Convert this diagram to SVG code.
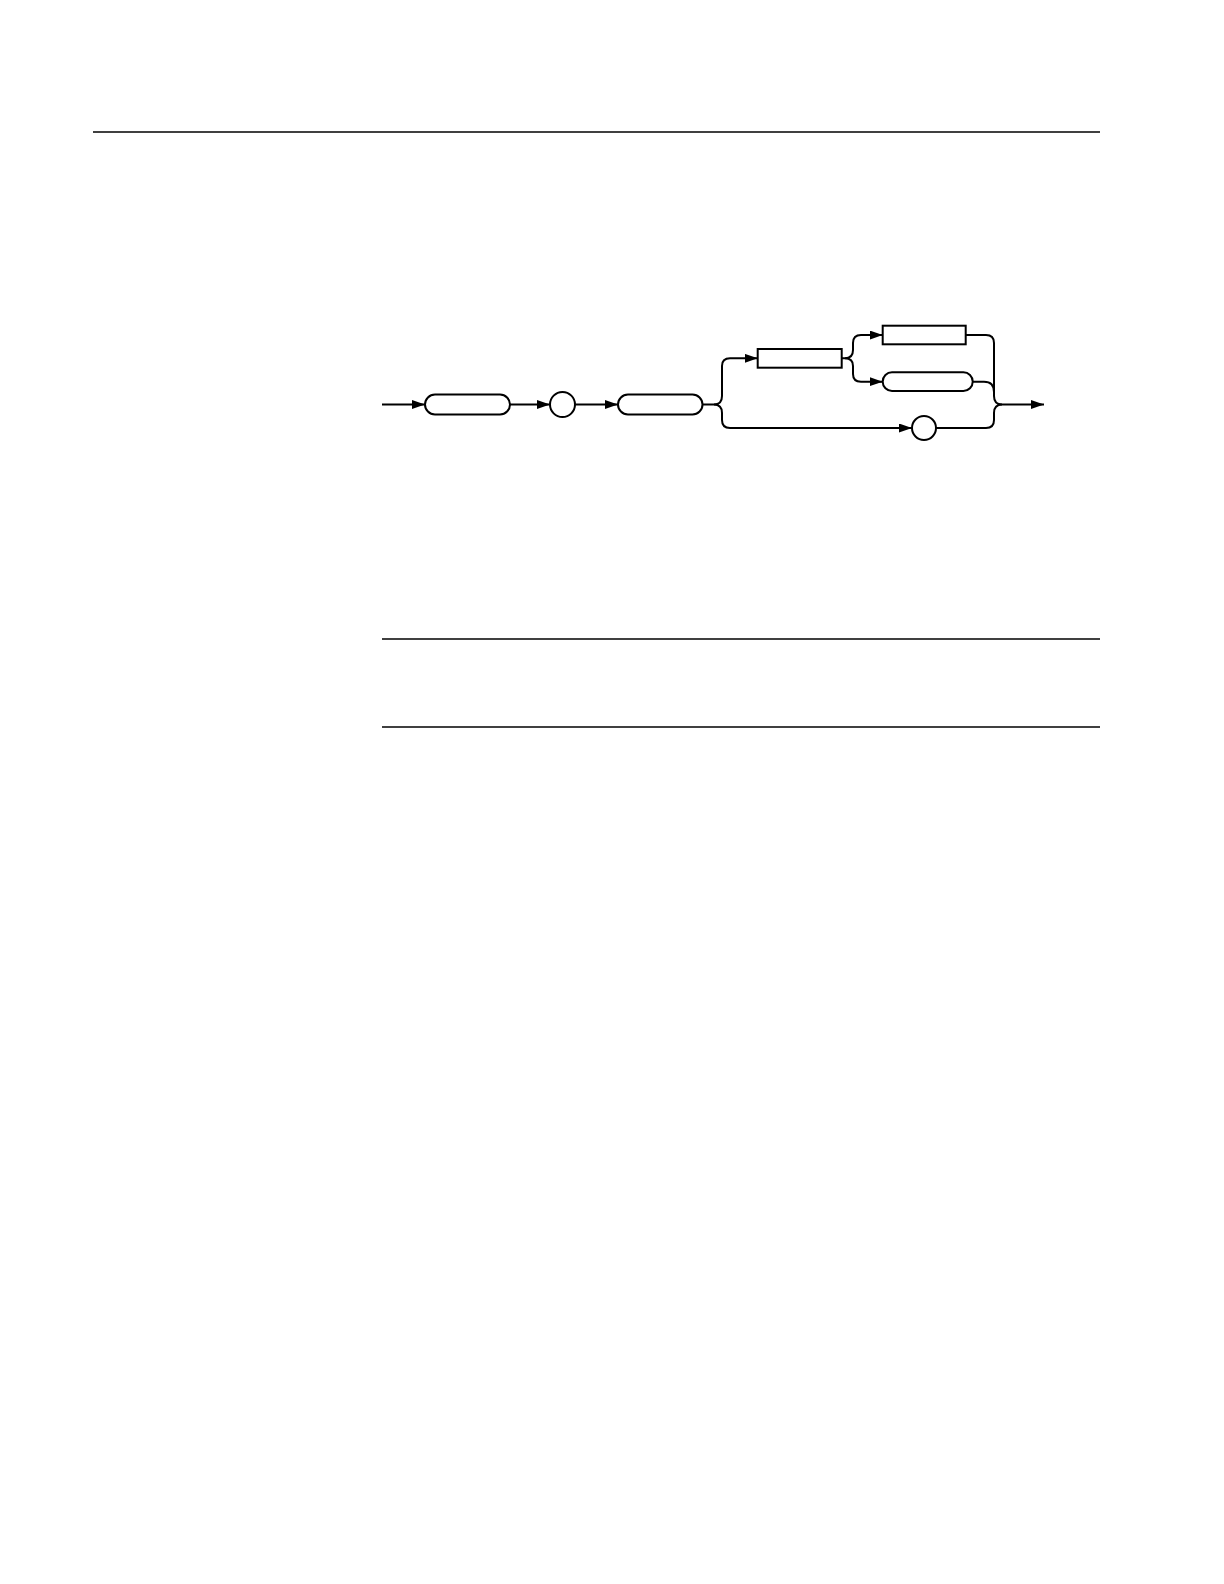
<svg xmlns="http://www.w3.org/2000/svg" width="1224" height="1584" viewBox="0 0 1224 1584">
<style>
.rule{stroke:#000;stroke-width:1.5;fill:none}
.node{fill:#fff;stroke:#000;stroke-width:2}
.conn{fill:none;stroke:#000;stroke-width:2}
</style>
<defs>
<marker id="arr" markerUnits="userSpaceOnUse" markerWidth="14" markerHeight="10" refX="13" refY="4.5" orient="auto">
<path d="M0,0 L13,4.5 L0,9 z" fill="#000"/>
</marker>
</defs>
<rect width="1224" height="1584" fill="#fff"/>
<g id="rules">
<line class="rule" x1="93" y1="132" x2="1100" y2="132"/>
<line class="rule" x1="382" y1="639" x2="1100" y2="639"/>
<line class="rule" x1="382" y1="727" x2="1100" y2="727"/>
</g>
<g id="connectors">
<path class="conn" d="M382,404.5 H425" marker-end="url(#arr)"/>
<path class="conn" d="M510,404.5 H550" marker-end="url(#arr)"/>
<path class="conn" d="M575,404.5 H618" marker-end="url(#arr)"/>
<path class="conn" d="M702.5,404.5 H714 Q722,404.5 722,396 V366 Q722,358.3 730,358.3 H757.7" marker-end="url(#arr)"/>
<path class="conn" d="M714,404.5 Q722,404.5 722,413 V420 Q722,428 730,428 H912" marker-end="url(#arr)"/>
<path class="conn" d="M841.7,358.3 H845 Q853,358.3 853,350 V343 Q853,335 861,335 H882.7" marker-end="url(#arr)"/>
<path class="conn" d="M845,358.3 Q853,358.3 853,366 V374 Q853,381.7 861,381.7 H882.7" marker-end="url(#arr)"/>
<path class="conn" d="M965.7,335 H986 Q994,335 994,343 V396 Q994,404.5 1002,404.5"/>
<path class="conn" d="M972.7,381.7 H984 Q994,381.7 994,392"/>
<path class="conn" d="M936,428 H986 Q994,428 994,420 V413 Q994,404.5 1002,404.5"/>
<path class="conn" d="M1002,404.5 H1044" marker-end="url(#arr)"/>
</g>
<g id="node1"><rect class="node" x="425" y="394.5" width="85" height="20" rx="10"/></g>
<g id="node2"><circle class="node" cx="562.5" cy="404.5" r="12.5"/></g>
<g id="node3"><rect class="node" x="618" y="394.5" width="84.5" height="20" rx="10"/></g>
<g id="node4"><rect class="node" x="757.7" y="349" width="84" height="18.7"/></g>
<g id="node5"><rect class="node" x="882.7" y="325.7" width="83" height="18.6"/></g>
<g id="node6"><rect class="node" x="882.7" y="372.3" width="90" height="18.7" rx="9.3"/></g>
<g id="node7"><circle class="node" cx="924" cy="428" r="12"/></g>
</svg>
